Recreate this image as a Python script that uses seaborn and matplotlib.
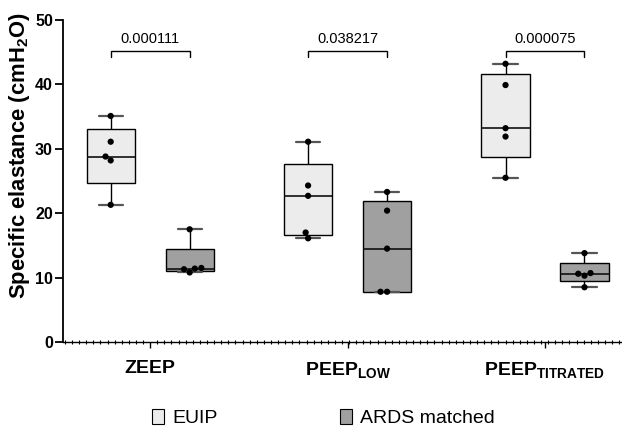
import numpy as np
import pandas as pd
import matplotlib
matplotlib.use("Agg")
import matplotlib.pyplot as plt
import seaborn as sns
from matplotlib.patches import Patch
from matplotlib.ticker import MultipleLocator

# ---------------- data ----------------
conditions = ["ZEEP", "PEEP_LOW", "PEEP_TITRATED"]
tick_labels = ["ZEEP", r"PEEP$_{\mathbf{LOW}}$", r"PEEP$_{\mathbf{TITRATED}}$"]
groups = ["EUIP", "ARDS matched"]
euip_zeep = [35.1, 31.1, 28.8, 28.2, 21.3]
ards_zeep = [17.5, 11.5, 11.4, 11.3, 10.8]
euip_low = [31.1, 24.3, 22.7, 17.0, 16.1]
ards_low = [23.3, 20.4, 14.5, 7.8, 7.8]
euip_tit = [43.2, 39.9, 33.2, 31.9, 25.5]
ards_tit = [13.8, 10.7, 10.6, 10.3, 8.5]
p_values = ["0.000111", "0.038217", "0.000075"]
y_ticks = [0, 10, 20, 30, 40, 50]
colors = ["#ececec", "#a0a0a0"]

rows = []
for cond, e_vals, a_vals in zip(conditions,
                                [euip_zeep, euip_low, euip_tit],
                                [ards_zeep, ards_low, ards_tit]):
    for v in e_vals:
        rows.append((cond, groups[0], v))
    for v in a_vals:
        rows.append((cond, groups[1], v))
df = pd.DataFrame(rows, columns=["condition", "group", "value"])

# ---------------- style ----------------
sns.set_style("ticks")
plt.rcParams["font.family"] = ["Liberation Sans", "DejaVu Sans"]
plt.rcParams["mathtext.fontset"] = "custom"
plt.rcParams["mathtext.rm"] = "Liberation Sans"
plt.rcParams["mathtext.it"] = "Liberation Sans:italic"
plt.rcParams["mathtext.bf"] = "Liberation Sans:bold"
for key in ["text.color", "axes.labelcolor", "xtick.color", "ytick.color",
            "axes.edgecolor", "xtick.labelcolor", "ytick.labelcolor"]:
    plt.rcParams[key] = "black"

fig = plt.figure(figsize=(6.22, 4.29), dpi=100)
ax = fig.add_axes([63.3 / 622, (429 - 342) / 429, 1 - 63.3 / 622, (342 - 20) / 429])

# Prism-style quartiles (Weibull / (n+1)p method)
_orig_percentile = np.percentile
def _weibull_percentile(a, q, *args, **kwargs):
    kwargs.setdefault("method", "weibull")
    return _orig_percentile(a, q, *args, **kwargs)
np.percentile = _weibull_percentile
sns.boxplot(data=df, x="condition", y="value", hue="group",
            order=conditions, hue_order=groups, palette=colors,
            width=0.8, gap=0.39, whis=np.inf, showfliers=False,
            saturation=1, linecolor="black", linewidth=1.0,
            capprops=dict(color="#555555", linewidth=1.6),
            medianprops=dict(color="#111111", linewidth=1.2),
            legend=False, ax=ax)
np.percentile = _orig_percentile

sns.swarmplot(data=df, x="condition", y="value", hue="group",
              order=conditions, hue_order=groups, dodge=True,
              palette=["black", "black"], size=4.5, linewidth=0,
              legend=False, ax=ax)

# ---------------- axes ----------------
ax.set_xlim(-0.44, 2.39)
ax.set_ylim(0, 50)
ax.set_yticks(y_ticks)
ax.set_yticklabels([str(t) for t in y_ticks], fontsize=11.5, fontweight="bold")
ax.set_xticks(range(len(conditions)))
ax.set_xticklabels(tick_labels, fontsize=14, fontweight="bold")
ax.set_xlabel("")
ax.set_ylabel(r"Specific elastance (cmH$_{\mathbf{2}}$O)", fontsize=15.8,
              fontweight="bold")
ax.yaxis.set_label_coords(-0.056, 0.578)
ax.xaxis.set_minor_locator(MultipleLocator(0.036))
ax.tick_params(axis="x", which="minor", direction="inout", length=2.2, width=0.8)
ax.tick_params(axis="x", which="major", direction="out", length=4, width=1.0, pad=9)
ax.tick_params(axis="y", which="major", direction="out", length=6, width=1.3, pad=1.5)
sns.despine(ax=ax)
ax.spines["left"].set_linewidth(1.3)
ax.spines["bottom"].set_linewidth(1.0)

# ---------------- significance brackets ----------------
for i, p in enumerate(p_values):
    x0, x1 = i - 0.2, i + 0.2
    ax.plot([x0, x0, x1, x1], [44.2, 45.2, 45.2, 44.2], color="black",
            lw=1.0, clip_on=False, solid_joinstyle="miter")
    ax.text(i, 46.4, p, ha="center", va="baseline", fontsize=10.5)

# ---------------- legend ----------------
handles = [Patch(facecolor=c, edgecolor="black", linewidth=0.8, label=g)
           for c, g in zip(colors, groups)]
fig.legend(handles=handles, loc="center left",
           bbox_to_anchor=(152 / 622, 1 - 418 / 429), ncol=2, frameon=False,
           fontsize=14, handlelength=0.62, handleheight=0.85,
           handletextpad=0.41, columnspacing=6.3, borderpad=0,
           borderaxespad=0)

fig.savefig("out.png", dpi=100)
